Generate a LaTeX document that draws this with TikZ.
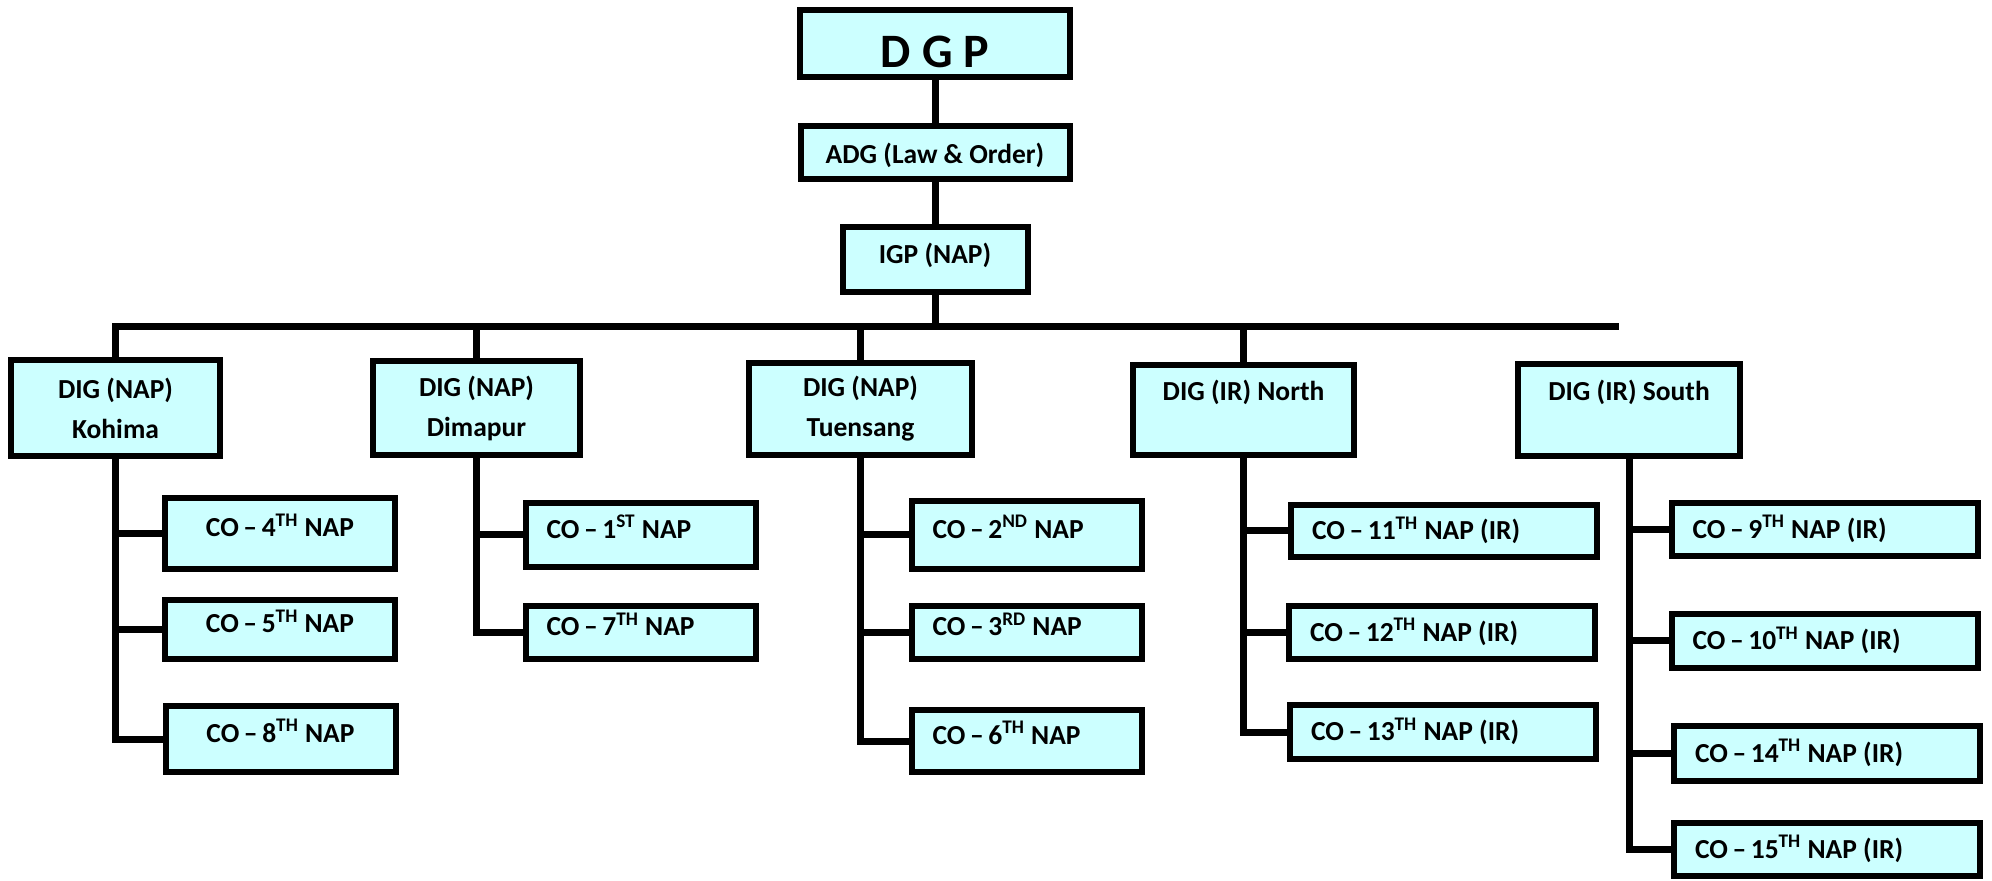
\documentclass[tikz,border=0pt]{standalone}
\usepackage{fontspec}
\setmainfont{Carlito}
\definecolor{postfill}{HTML}{CCFFFF}
\tikzset{
  post/.style={draw, line width=3pt, fill=postfill, inner sep=0pt,
    font=\bfseries\fontsize{13.75pt}{20pt}\selectfont, align=center},
  nap/.style={post, minimum width=115pt, minimum height=#1,
    text height=9pt, text depth=5.8pt},
  napl/.style={nap=#1, align=flush left, inner xsep=10.5pt, text width=94pt},
  ir/.style={post, align=flush left, inner xsep=10.5pt, text width=132pt,
    minimum height=#1, text height=11pt, text depth=2.3pt},
  link/.style={line width=3.5pt},
}
\begin{document}
\begin{tikzpicture}[x=0.5pt, y=-0.5pt]
\useasboundingbox (0,0) rectangle (1992,881);
% head of the chain
\node[post, minimum width=135pt, minimum height=33.5pt, font=\bfseries\fontsize{24pt}{28pt}\selectfont, text height=24.5pt, text depth=0pt] (dgp) at (935,43.5) {D G P};
\node[post, minimum width=134.5pt, minimum height=26.5pt, text height=11.2pt, text depth=0pt] (adg) at (935,152.5) {ADG (Law \& Order)};
\node[post, minimum width=92.5pt, minimum height=32.5pt, text height=8pt, text depth=3.8pt] (igp) at (935,259.5) {IGP (NAP)};
\coordinate (busend) at (1619,327);
\draw[link] (dgp) -- (adg);
\draw[link] (adg) -- (igp);
% DIG row
\node[post, minimum width=104.5pt, minimum height=48pt] (kohima) at (115.5,408) {DIG (NAP)\\Kohima};
\node[post, minimum width=103.5pt, minimum height=47pt] (dimapur) at (476.5,408) {DIG (NAP)\\Dimapur};
\node[post, minimum width=111.5pt, minimum height=46pt] (tuensang) at (860.5,409) {DIG (NAP)\\Tuensang};
\node[post, minimum width=110.5pt, minimum height=45pt] (north) at (1243.5,410) {DIG (IR) North\\~};
\node[post, minimum width=111pt, minimum height=46pt] (south) at (1629,410) {DIG (IR) South\\~};
\draw[link] (kohima) |- (busend);
\draw[link] (igp) -- (igp |- busend);
\draw[link] (dimapur) -- (dimapur |- busend);
\draw[link] (tuensang) -- (tuensang |- busend);
\draw[link] (north) -- (north |- busend);
% Kohima
\node[nap=35.5pt] (co4) at (280,533.5) {CO\,--\,4\textsuperscript{TH} NAP};
\node[nap=29.5pt] (co5) at (280,629.5) {CO\,--\,5\textsuperscript{TH} NAP};
\node[nap=33pt] (co8) at (280.5,739) {CO\,--\,8\textsuperscript{TH} NAP};
\draw[link] (kohima) |- (co4) (kohima) |- (co5) (kohima) |- (co8);
% Dimapur
\node[napl=32pt] (co1) at (640.5,535) {CO\,--\,1\textsuperscript{ST} NAP};
\node[napl=26.5pt] (co7) at (640.5,632.5) {CO\,--\,7\textsuperscript{TH} NAP};
\draw[link] (dimapur) |- (co1) (dimapur) |- (co7);
% Tuensang
\node[napl=34pt] (co2) at (1026.5,535) {CO\,--\,2\textsuperscript{ND} NAP};
\node[napl=26.5pt] (co3) at (1026.5,632.5) {CO\,--\,3\textsuperscript{RD} NAP};
\node[napl=31pt] (co6) at (1026.5,741) {CO\,--\,6\textsuperscript{TH} NAP};
\draw[link] (tuensang) |- (co2) (tuensang) |- (co3) (tuensang) |- (co6);
% North
\node[ir=26pt] (co11) at (1444,531) {CO\,--\,11\textsuperscript{TH} NAP (IR)};
\node[ir=26.5pt] (co12) at (1442,632.5) {CO\,--\,12\textsuperscript{TH} NAP (IR)};
\node[ir=27pt] (co13) at (1443,732) {CO\,--\,13\textsuperscript{TH} NAP (IR)};
\draw[link] (north) |- (co11) (north) |- (co12) (north) |- (co13);
% South
\node[ir=26.5pt] (co9) at (1824.5,529.5) {CO\,--\,9\textsuperscript{TH} NAP (IR)};
\node[ir=27pt] (co10) at (1824.5,641) {CO\,--\,10\textsuperscript{TH} NAP (IR)};
\node[ir=27.5pt] (co14) at (1827,753.5) {CO\,--\,14\textsuperscript{TH} NAP (IR)};
\node[ir=26.5pt] (co15) at (1827,849.5) {CO\,--\,15\textsuperscript{TH} NAP (IR)};
\draw[link] (south) |- (co9) (south) |- (co10) (south) |- (co14) (south) |- (co15);
\end{tikzpicture}
\end{document}
